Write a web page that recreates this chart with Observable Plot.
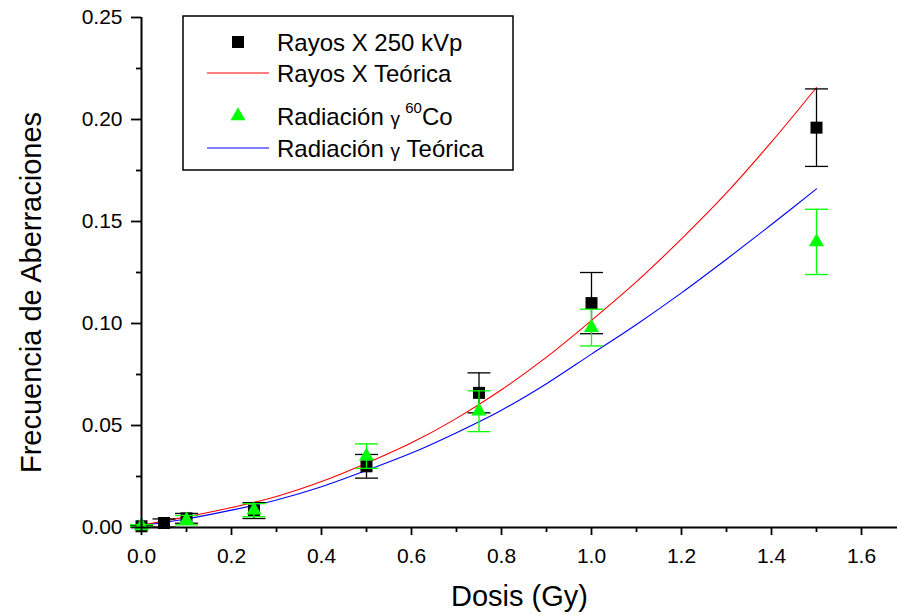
<!DOCTYPE html>
<html><head><meta charset="utf-8">
<script src="https://cdn.jsdelivr.net/npm/d3@7"></script>
<script src="https://cdn.jsdelivr.net/npm/@observablehq/plot@0.6"></script>
<style>
html,body{margin:0;padding:0;background:#fff;}
#chart{position:relative;width:898px;height:615px;}
#legend{position:absolute;left:0;top:0;}
</style></head><body>
<div id="chart"></div>
<script>
// ---- data ----
const xrayDose = [0, 0.05, 0.1, 0.25, 0.5, 0.75, 1.0, 1.5];
const xrayFreq = [0.0006, 0.0022, 0.0045, 0.0083, 0.0300, 0.0660, 0.1100, 0.1960];
const xrayErr  = [0.0005, 0.0020, 0.0024, 0.0039, 0.0058, 0.0098, 0.0150, 0.0190];

const gammaDose = [0, 0.1, 0.25, 0.5, 0.75, 1.0, 1.5];
const gammaFreq = [0.0008, 0.0036, 0.0085, 0.0350, 0.0570, 0.0980, 0.1400];
const gammaErr  = [0.0006, 0.0023, 0.0032, 0.0060, 0.0100, 0.0090, 0.0160];

const fitDose  = [0, 0.1, 0.2, 0.3, 0.4, 0.5, 0.6, 0.7, 0.8, 0.9, 1.0, 1.1, 1.2, 1.3, 1.4, 1.5];
const xrayFit  = [0.0012, 0.0052, 0.0098, 0.0152, 0.0225, 0.0315, 0.0415, 0.0535, 0.0675, 0.0835, 0.1015, 0.1205, 0.1415, 0.1640, 0.1890, 0.2157];
const gammaFit = [0.0010, 0.0042, 0.0085, 0.0135, 0.0200, 0.0280, 0.0365, 0.0465, 0.0575, 0.0705, 0.0850, 0.0995, 0.1150, 0.1315, 0.1485, 0.1660];

const xTicks = [0, 0.2, 0.4, 0.6, 0.8, 1.0, 1.2, 1.4, 1.6];
const xMinor = [0.1, 0.3, 0.5, 0.7, 0.9, 1.1, 1.3, 1.5];
const yTicks = [0, 0.05, 0.10, 0.15, 0.20, 0.25];
const yMinor = [0.025, 0.075, 0.125, 0.175, 0.225];
const xDomain = [0, 1.68];
const yDomain = [0, 0.25];

const xTitle = "Dosis (Gy)";
const yTitle = "Frecuencia de Aberraciones";
const legendLabels = ["Rayos X 250 kVp", "Rayos X Teórica", "Radiación γ 60Co", "Radiación γ Teórica"];

// ---- tables ----
const xray = xrayDose.map((d, i) => ({dose: d, freq: xrayFreq[i], lo: xrayFreq[i] - xrayErr[i], hi: xrayFreq[i] + xrayErr[i]}));
const gamma = gammaDose.map((d, i) => ({dose: d, freq: gammaFreq[i], lo: gammaFreq[i] - gammaErr[i], hi: gammaFreq[i] + gammaErr[i]}));
const xFit = fitDose.map((d, i) => ({dose: d, freq: xrayFit[i]}));
const gFit = fitDose.map((d, i) => ({dose: d, freq: gammaFit[i]}));

const BLACK = "#000000", GREEN = "#00ff00", RED = "#ff0000", BLUE = "#0000ff";
const capSymbol = {draw(ctx, size) { const w = Math.sqrt(size) / 2; ctx.moveTo(-w, 0); ctx.lineTo(w, 0); }};
const capR = 23 / Math.sqrt(Math.PI);

const plot = Plot.plot({
  width: 898, height: 615,
  marginLeft: 141, marginRight: 1, marginTop: 17, marginBottom: 88,
  style: {fontFamily: "'Liberation Sans', Arial, sans-serif", background: "white", overflow: "visible"},
  x: {domain: xDomain, label: null},
  y: {domain: yDomain, label: null},
  marks: [
    // theoretical curves
    Plot.line(xFit, {x: "dose", y: "freq", stroke: RED, strokeWidth: 1.1, curve: "catmull-rom"}),
    Plot.line(gFit, {x: "dose", y: "freq", stroke: BLUE, strokeWidth: 1.1, curve: "catmull-rom"}),
    // x-ray points
    Plot.ruleX(xray, {x: "dose", y1: "lo", y2: "hi", stroke: BLACK, strokeWidth: 1.3}),
    Plot.dot(xray, {x: "dose", y: "lo", symbol: capSymbol, r: capR, stroke: BLACK, fill: "none", strokeWidth: 1.3}),
    Plot.dot(xray, {x: "dose", y: "hi", symbol: capSymbol, r: capR, stroke: BLACK, fill: "none", strokeWidth: 1.3}),
    Plot.dot(xray, {x: "dose", y: "freq", symbol: "square", r: 12 / Math.sqrt(Math.PI), fill: BLACK, stroke: "none"}),
    // gamma points
    Plot.ruleX(gamma, {x: "dose", y1: "lo", y2: "hi", stroke: GREEN, strokeWidth: 1.3}),
    Plot.dot(gamma, {x: "dose", y: "lo", symbol: capSymbol, r: capR, stroke: GREEN, fill: "none", strokeWidth: 1.3}),
    Plot.dot(gamma, {x: "dose", y: "hi", symbol: capSymbol, r: capR, stroke: GREEN, fill: "none", strokeWidth: 1.3}),
    Plot.dot(gamma, {x: "dose", y: "freq", symbol: "triangle", r: 5.6, fill: GREEN, stroke: "none"}),
    // axes
    Plot.axisX({ticks: xMinor, tickSize: 5, tickFormat: () => "", strokeWidth: 1.8, label: null}),
    Plot.axisX({ticks: xTicks, tickSize: 8, tickPadding: 13, tickFormat: d3.format(".1f"), strokeWidth: 1.8, fontSize: 21, label: null, fill: BLACK}),
    Plot.axisY({ticks: yMinor, tickSize: 5, tickFormat: () => "", strokeWidth: 1.8, label: null}),
    Plot.axisY({ticks: yTicks, tickSize: 10, tickPadding: 9, tickFormat: d3.format(".2f"), strokeWidth: 1.8, fontSize: 21, label: null, fill: BLACK}),
    Plot.ruleX([0], {stroke: BLACK, strokeWidth: 2}),
    Plot.ruleY([0], {stroke: BLACK, strokeWidth: 2}),
    // axis titles
    Plot.text([yTitle], {text: d => d, frameAnchor: "left", rotate: -90, dx: -101, dy: 20, fontSize: 29, lineAnchor: "bottom", textAnchor: "middle", fill: BLACK}),
    Plot.text([xTitle], {text: d => d, frameAnchor: "bottom", dy: 78, fontSize: 29, lineAnchor: "bottom", textAnchor: "middle", fill: BLACK})
  ]
});
document.getElementById("chart").appendChild(plot);

// ---- legend (overlay) ----
const svg = d3.select("#chart").append("svg").attr("id", "legend")
  .attr("width", 898).attr("height", 615)
  .style("font-family", "'Liberation Sans', Arial, sans-serif");
svg.append("rect").attr("x", 183).attr("y", 16).attr("width", 330).attr("height", 154)
  .attr("fill", "white").attr("stroke", BLACK).attr("stroke-width", 1.5);
const tx = 277, fs = 24;
// row 1
svg.append("path").attr("transform", "translate(238,42)")
  .attr("d", d3.symbol(d3.symbolSquare, 144)()).attr("fill", BLACK);
svg.append("text").attr("x", tx).attr("y", 50.5).attr("font-size", fs).text(legendLabels[0]);
// row 2
svg.append("line").attr("x1", 207).attr("x2", 269).attr("y1", 73).attr("y2", 73).attr("stroke", RED).attr("stroke-width", 1.1);
svg.append("text").attr("x", tx).attr("y", 81.5).attr("font-size", fs).text(legendLabels[1]);
// row 3
svg.append("path").attr("transform", "translate(238,116)")
  .attr("d", d3.symbol(d3.symbolTriangle, 97)()).attr("fill", GREEN);
const t3 = svg.append("text").attr("x", tx).attr("y", 125).attr("font-size", fs);
t3.append("tspan").text("Radiación ");
t3.append("tspan").attr("font-size", 19).text("γ ");
t3.append("tspan").attr("font-size", 15).attr("dy", -12).text("60");
t3.append("tspan").attr("dy", 12).text("Co");
// row 4
svg.append("line").attr("x1", 207).attr("x2", 269).attr("y1", 148).attr("y2", 148).attr("stroke", BLUE).attr("stroke-width", 1.1);
const t4 = svg.append("text").attr("x", tx).attr("y", 156.5).attr("font-size", fs);
t4.append("tspan").text("Radiación ");
t4.append("tspan").attr("font-size", 19).text("γ");
t4.append("tspan").text(" Teórica");
</script>
</body></html>
